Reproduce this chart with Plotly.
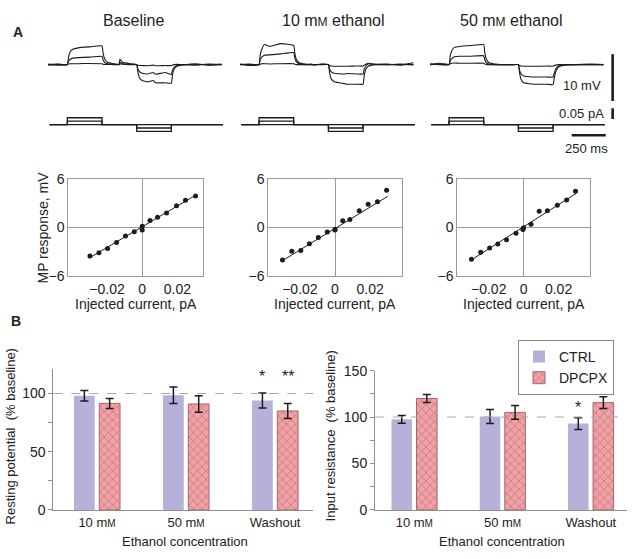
import plotly.graph_objects as go

FONT = "Liberation Sans, Arial, Helvetica, sans-serif"
W, H = 632, 559

# ---------------- Panel A (top): membrane-potential traces ----------------
# breakpoints in ms, values in mV
T_MS = [0, 70, 140, 148, 160, 180, 220, 300, 395, 403, 415, 435, 480, 520, 527, 545, 600,
        650, 658, 670, 690, 730, 770, 790, 860, 905, 913, 925, 945, 990, 1080, 1180, 1275]

BL_BIG = [0.1, -0.1, 0, 1.5, 2.7, 3.3, 3.6, 3.8, 4.0, 2.4, 1.2, 0.5, 0.2, 0.1, 1.2, 0.5, 0.2,
          0, -1.5, -2.8, -3.4, -3.7, -3.4, -3.9, -3.9, -4.0, -2.2, -1.0, -0.35, -0.05, 0.15, -0.1, 0.1]
BL_MID = [0, 0.1, 0, 0.7, 1.1, 1.4, 1.5, 1.6, 1.75, 1.0, 0.5, 0.2, 0.1, 0, 0.5, 0.2, 0.05,
          0, -0.9, -1.5, -1.85, -2.0, -1.7, -2.05, -1.7, -2.1, -1.2, -0.6, -0.2, 0, -0.1, 0.1, 0]
BL_SMALL = [-0.1, 0.05, 0, 0.15, 0.2, 0.2, 0.2, 0.25, 0.2, 0.1, 0.05, 0.05, 0, 0, 0.2, 0.1, 0,
            0, -0.15, -0.2, -0.2, -0.25, -0.1, -0.25, -0.2, -0.2, -0.1, 0, 0.05, 0, 0.1, -0.05, 0]

E10_BIG = [0.1, -0.2, 0, 2.0, 3.3, 4.3, 3.9, 4.5, 4.1, 2.4, 1.1, 0.4, 0.1, 0, 0.1, -0.1, 0.1,
           0, -1.6, -3.0, -3.6, -3.9, -4.1, -4.2, -4.2, -4.2, -2.4, -1.0, -0.3, 0, 0.1, -0.1, 0.4]
E10_MID = [0, 0.1, 0, 1.0, 1.6, 2.0, 2.1, 2.3, 2.6, 1.4, 0.6, 0.2, 0, 0.1, 0, 0, 0.05,
           0, -0.9, -1.5, -1.85, -1.95, -2.0, -1.9, -2.0, -2.0, -1.0, -0.3, 0.2, 0, 0, 0.1, 0]
E10_SMALL = [0, 0, 0, 0.1, 0.2, 0.2, 0.15, 0.2, 0.2, 0.1, 0, 0, 0, 0, 0, 0, 0,
             0, -0.2, -0.3, -0.35, -0.35, -0.35, -0.35, -0.3, -0.3, -0.1, 0.1, 0.3, 0.1, 0, 0, 0]

E50_BIG = [0.2, 0, 0, 1.8, 3.0, 3.7, 3.9, 4.1, 4.3, 2.5, 1.1, 0.4, 0.1, 0, 0, 0, 0,
           0, -1.7, -3.2, -3.9, -4.1, -4.2, -4.2, -4.2, -4.3, -3.0, -1.5, -0.5, -0.1, 0, 0.1, 0]
E50_MID = [0, 0.1, 0, 0.8, 1.3, 1.7, 1.8, 1.8, 1.9, 1.0, 0.4, 0.1, 0, 0, 0, 0, 0,
           0, -1.2, -2.0, -2.45, -2.6, -2.65, -2.65, -2.65, -2.7, -1.9, -0.9, -0.3, 0, 0, 0, 0]
E50_SMALL = [0, 0.3, 0, 0.2, 0.3, 0.35, 0.3, 0.3, 0.3, 0.15, 0.05, 0, 0, 0, 0, 0, 0,
             0, -0.2, -0.3, -0.35, -0.35, -0.35, -0.35, -0.3, -0.35, -0.2, -0.1, 0, 0, 0, 0, 0]

# injected current steps (pA)
T_PA = [10, 140, 140, 395, 395, 650, 650, 905, 905, 1285]
CUR_BIG = [0, 0, 0.032, 0.032, 0, 0, -0.032, -0.032, 0, 0]
CUR_MID = [0, 0, 0.016, 0.016, 0, 0, -0.016, -0.016, 0, 0]
CUR_ZERO = [0, 0, 0, 0, 0, 0, 0, 0, 0, 0]

# scale bars
SCALE_MV = [-7.8, 2.2]        # 10 mV
SCALE_PA = [0.026, 0.076]     # 0.05 pA
SCALE_MS = [1042, 1292]       # 250 ms
SCALE_T = 1343
SCALE_MS_Y = -0.05

# ---------------- Panel A (bottom): I-V relations ----------------
IV_BL_X = [-0.0297, -0.0246, -0.0197, -0.0146, -0.0095, -0.0045, 0, 0, 0.0044, 0.0087, 0.0138, 0.0195, 0.0246, 0.0303]
IV_BL_Y = [-3.52, -3.12, -2.6, -1.84, -1.04, -0.52, -0.32, 0.16, 0.88, 1.28, 1.8, 2.68, 3.36, 3.88]
IV_E10_X = [-0.0299, -0.0246, -0.0195, -0.0146, -0.0095, -0.0044, 0, 0, 0.0044, 0.0085, 0.0138, 0.0189, 0.0242, 0.0294]
IV_E10_Y = [-4.0, -2.92, -2.84, -2.0, -1.24, -0.56, -0.32, -0.2, 0.84, 1.0, 2.08, 2.88, 3.2, 4.6]
IV_E50_X = [-0.0299, -0.0246, -0.0195, -0.0148, -0.0098, -0.0044, -0.0004, 0, 0.0042, 0.0089, 0.0136, 0.0193, 0.0246, 0.0297]
IV_E50_Y = [-3.92, -3.04, -2.52, -2.04, -1.52, -0.72, -0.24, -0.04, 0.4, 2.0, 2.08, 2.76, 3.4, 4.48]
FIT_X = [-0.03, 0.03]
FIT_BL = [-3.75, 3.95]
FIT_E10 = [-4.1, 3.85]
FIT_E50 = [-4.0, 4.2]
IV_XTICKS = [-0.02, 0, 0.02]
IV_XTEXT = ["\u22120.02", "0", "0.02"]
IV_YTICKS = [-6, 0, 6]
IV_YTEXT = ["\u22126", "0", "6"]

# ---------------- Panel B: bar charts ----------------
MM_SMALL = '<span style="font-size:10px">M</span>'
CATS = [0, 1, 2]
CAT_LABELS = ["10 m" + MM_SMALL, "50 m" + MM_SMALL, "Washout"]
RP_CTRL = [98, 98.5, 94]
RP_CTRL_ERR = [4.5, 7, 6.5]
RP_DPCPX = [91.5, 91, 85]
RP_DPCPX_ERR = [4.3, 7, 6.5]
IR_CTRL = [97.5, 100.5, 93]
IR_CTRL_ERR = [4.2, 7.5, 6.3]
IR_DPCPX = [120, 105, 115.5]
IR_DPCPX_ERR = [4.3, 7.5, 6.4]
BASELINE_PCT = 100

CTRL_COLOR = "#b6b1d9"
DP_BG = "#f1a0a4"
DP_FG = "#ad6a73"
DP_LINE = "#a7646c"
INK = "#1c1c1c"


def px(x):
    return x / W


def py(y):
    return 1 - y / H


def ax(i, kind):
    if kind == "trace":
        return ("x" if i == 1 else f"x{i}"), ("y" if i == 1 else f"y{i}")
    return ("xaxis" if i == 1 else f"xaxis{i}"), ("yaxis" if i == 1 else f"yaxis{i}")


fig = go.Figure()
layout = dict(width=W, height=H, autosize=False, margin=dict(l=0, r=0, t=0, b=0),
              paper_bgcolor="white", plot_bgcolor="white",
              font=dict(family=FONT, size=13, color="#222"),
              barmode="group", bargap=0.432, bargroupgap=0.18,
              showlegend=True)

PX_PER_MS = 0.136
PX_PER_MV = 4.8
PX_PER_PA = 220
V_ZERO, V_TOP, V_BOT = 58.3, 25, 100
I_ZERO, I_TOP, I_BOT = 120, 100, 140
PANEL_T0 = [48.3, 240, 430]
PANEL_XDOM = [(45, 230), (237, 422), (427, 620)]
PANEL_V = [[BL_SMALL, BL_MID, BL_BIG], [E10_SMALL, E10_MID, E10_BIG], [E50_SMALL, E50_MID, E50_BIG]]

for p in range(3):
    t0 = PANEL_T0[p]
    d0, d1 = PANEL_XDOM[p]
    xr = [(d0 - t0) / PX_PER_MS, (d1 - t0) / PX_PER_MS]
    iv = p + 1
    xk, yk = ax(iv, "layout")
    xr_, yr_ = ax(iv, "trace")
    layout[xk] = dict(domain=[px(d0), px(d1)], range=xr, visible=False, anchor=yr_, fixedrange=True)
    layout[yk] = dict(domain=[py(V_BOT), py(V_TOP)],
                      range=[-(V_BOT - V_ZERO) / PX_PER_MV, (V_ZERO - V_TOP) / PX_PER_MV],
                      visible=False, anchor=xr_, fixedrange=True)
    for vals in PANEL_V[p]:
        fig.add_trace(go.Scatter(x=T_MS, y=vals, mode="lines",
                                 line=dict(color=INK, width=1.1, shape="spline", smoothing=0.35),
                                 xaxis=xr_, yaxis=yr_, showlegend=False, hoverinfo="skip"))
    ic = p + 4
    xk, yk = ax(ic, "layout")
    xc_, yc_ = ax(ic, "trace")
    layout[xk] = dict(domain=[px(d0), px(d1)], range=xr, visible=False, anchor=yc_, fixedrange=True)
    layout[yk] = dict(domain=[py(I_BOT), py(I_TOP)],
                      range=[-(I_BOT - I_ZERO) / PX_PER_PA, (I_ZERO - I_TOP) / PX_PER_PA],
                      visible=False, anchor=xc_, fixedrange=True)
    for vals in [CUR_ZERO, CUR_MID, CUR_BIG]:
        fig.add_trace(go.Scatter(x=T_PA, y=vals, mode="lines", line=dict(color=INK, width=1.3),
                                 xaxis=xc_, yaxis=yc_, showlegend=False, hoverinfo="skip"))

# scale bars (panel 3 axes)
fig.add_trace(go.Scatter(x=[SCALE_T, SCALE_T], y=SCALE_MV, mode="lines", line=dict(color=INK, width=2.6),
                         xaxis="x3", yaxis="y3", showlegend=False, hoverinfo="skip"))
fig.add_trace(go.Scatter(x=[SCALE_T, SCALE_T], y=SCALE_PA, mode="lines", line=dict(color=INK, width=2.6),
                         xaxis="x6", yaxis="y6", showlegend=False, hoverinfo="skip"))
fig.add_trace(go.Scatter(x=SCALE_MS, y=[SCALE_MS_Y, SCALE_MS_Y], mode="lines", line=dict(color=INK, width=2.6),
                         xaxis="x6", yaxis="y6", showlegend=False, hoverinfo="skip"))

# I-V plots
IV_XDOM = [(68.3, 203.3), (268.3, 401.7), (457.3, 590)]
IV_XRANGE = [[-0.042, 0.0347], [-0.038, 0.038], [-0.038, 0.038]]
IV_DATA = [(IV_BL_X, IV_BL_Y, FIT_BL), (IV_E10_X, IV_E10_Y, FIT_E10), (IV_E50_X, IV_E50_Y, FIT_E50)]
FRAME = "#9a9a9a"
for p in range(3):
    i = p + 7
    xk, yk = ax(i, "layout")
    xr_, yr_ = ax(i, "trace")
    d0, d1 = IV_XDOM[p]
    layout[xk] = dict(domain=[px(d0), px(d1)], range=IV_XRANGE[p], anchor=yr_,
                      showline=True, mirror=True, linecolor=FRAME, linewidth=1,
                      zeroline=True, zerolinecolor=FRAME, zerolinewidth=1, showgrid=False,
                      ticks="", tickmode="array", tickvals=IV_XTICKS, ticktext=IV_XTEXT,
                      tickfont=dict(size=14, color="#222"), fixedrange=True)
    layout[yk] = dict(domain=[py(276), py(176)], range=[-6, 6], anchor=xr_,
                      showline=True, mirror=True, linecolor=FRAME, linewidth=1,
                      zeroline=True, zerolinecolor=FRAME, zerolinewidth=1, showgrid=False,
                      ticks="", tickmode="array", tickvals=IV_YTICKS, ticktext=IV_YTEXT,
                      tickfont=dict(size=14, color="#222"), fixedrange=True)
    xs, ys, fit = IV_DATA[p]
    fig.add_trace(go.Scatter(x=FIT_X, y=fit, mode="lines", line=dict(color=INK, width=1),
                             xaxis=xr_, yaxis=yr_, showlegend=False, hoverinfo="skip"))
    fig.add_trace(go.Scatter(x=xs, y=ys, mode="markers", marker=dict(color=INK, size=5),
                             xaxis=xr_, yaxis=yr_, showlegend=False, hoverinfo="skip"))

# Bar charts
BAR_AXIS = "#8f8f8f"
BAR_SPECS = [
    (10, (53.3, 313), [-0.491, 2.426], [0, 121], RP_CTRL, RP_CTRL_ERR, RP_DPCPX, RP_DPCPX_ERR, False),
    (11, (375, 627), [-0.445, 2.41], [0, 150], IR_CTRL, IR_CTRL_ERR, IR_DPCPX, IR_DPCPX_ERR, True),
]
shapes = []
for i, (d0, d1), xr, yr, c, ce, d, de, leg in BAR_SPECS:
    xk, yk = ax(i, "layout")
    xr_, yr_ = ax(i, "trace")
    ppu = 145.0 / 121 if i == 10 else 143.4 / 150
    top = 516.7 - (yr[1] - yr[0]) * ppu
    layout[xk] = dict(domain=[px(d0), px(d1)], range=xr, anchor=yr_, showline=True,
                      linecolor=BAR_AXIS, linewidth=1, ticks="", tickmode="array",
                      tickvals=CATS, ticktext=CAT_LABELS, tickfont=dict(size=13, color="#222"),
                      showgrid=False, zeroline=False, fixedrange=True)
    layout[yk] = dict(domain=[py(516.7), py(top)], range=yr, anchor=xr_, showline=True,
                      linecolor=BAR_AXIS, linewidth=1, ticks="outside", ticklen=4, tickcolor=BAR_AXIS,
                      tick0=0, dtick=50, tickfont=dict(size=14, color="#222"),
                      minor=dict(dtick=25, ticks="outside", ticklen=4, tickcolor=BAR_AXIS),
                      showgrid=False, zeroline=False, fixedrange=True)
    fig.add_trace(go.Bar(x=CATS, y=c, name="CTRL", marker=dict(color=CTRL_COLOR, line=dict(width=0)),
                         error_y=dict(type="data", array=ce, color=INK, thickness=1.5, width=4),
                         xaxis=xr_, yaxis=yr_, showlegend=leg, legendgroup="ctrl", hoverinfo="skip"))
    fig.add_trace(go.Bar(x=CATS, y=d, name="DPCPX",
                         marker=dict(color=DP_BG, line=dict(color=DP_LINE, width=1),
                                     pattern=dict(shape="x", size=6, solidity=0.18,
                                                  fgcolor=DP_FG, bgcolor=DP_BG, fillmode="replace")),
                         error_y=dict(type="data", array=de, color=INK, thickness=1.5, width=4),
                         xaxis=xr_, yaxis=yr_, showlegend=leg, legendgroup="dp", hoverinfo="skip"))
    shapes.append(dict(type="line", xref=f"x{i} domain", x0=0, x1=1, yref=yr_, y0=BASELINE_PCT, y1=BASELINE_PCT,
                       line=dict(color="#a8a8a8", width=1, dash="dash"), layer="above"))

layout["shapes"] = shapes
layout["legend"] = dict(x=px(614), y=py(341.7), xanchor="right", yanchor="top",
                        bgcolor="white", bordercolor="#888", borderwidth=1,
                        font=dict(size=14, color="#222"), tracegroupgap=0, itemwidth=30)


def ann(text, x, y, size=13, xanchor="center", angle=0, xref="paper", yref="paper"):
    return dict(text=text, x=x, y=y, xref=xref, yref=yref, xanchor=xanchor, yanchor="middle",
                showarrow=False, textangle=angle, font=dict(family=FONT, size=size, color="#222"))


MM_T = '<span style="font-size:12px">M</span>'
annotations = [
    ann("<b>A</b>", px(18), py(25), size=14),
    ann("<b>B</b>", px(16), py(322), size=14),
    ann("Baseline", px(133), py(13), size=16),
    ann("10 m" + MM_T + " ethanol", px(333), py(13), size=16),
    ann("50 m" + MM_T + " ethanol", px(511), py(13), size=16),
    ann("10 mV", px(603), py(80), size=13, xanchor="right"),
    ann("0.05 pA", px(606), py(109), size=13, xanchor="right"),
    ann("250 ms", px(586), py(144.3), size=13),
    ann("MP response, mV", px(43), py(226), size=14, angle=-90),
    ann("Injected current, pA", px(135.8), py(305), size=14),
    ann("Injected current, pA", px(335), py(305), size=14),
    ann("Injected current, pA", px(523.7), py(305), size=14),
    ann("Resting potential  (% baseline)", px(10), py(441), size=13, angle=-90),
    ann("Input resistance  (% baseline)", px(330), py(441), size=13, angle=-90),
    ann("Ethanol concentration", px(185), py(549), size=13),
    ann("Ethanol concentration", px(501.7), py(549), size=13),
    ann("*", 2 - 0.142, 114.5, size=16, xref="x10", yref="y10"),
    ann("**", 2 + 0.142, 114.5, size=16, xref="x10", yref="y10"),
    ann("*", 2 - 0.142, 110, size=16, xref="x11", yref="y11"),
]
layout["annotations"] = annotations

fig.update_layout(**layout)
fig.write_html("out.html", config={"displayModeBar": False, "staticPlot": True},
               post_script="document.body.style.margin='0';document.body.style.overflow='hidden';")
